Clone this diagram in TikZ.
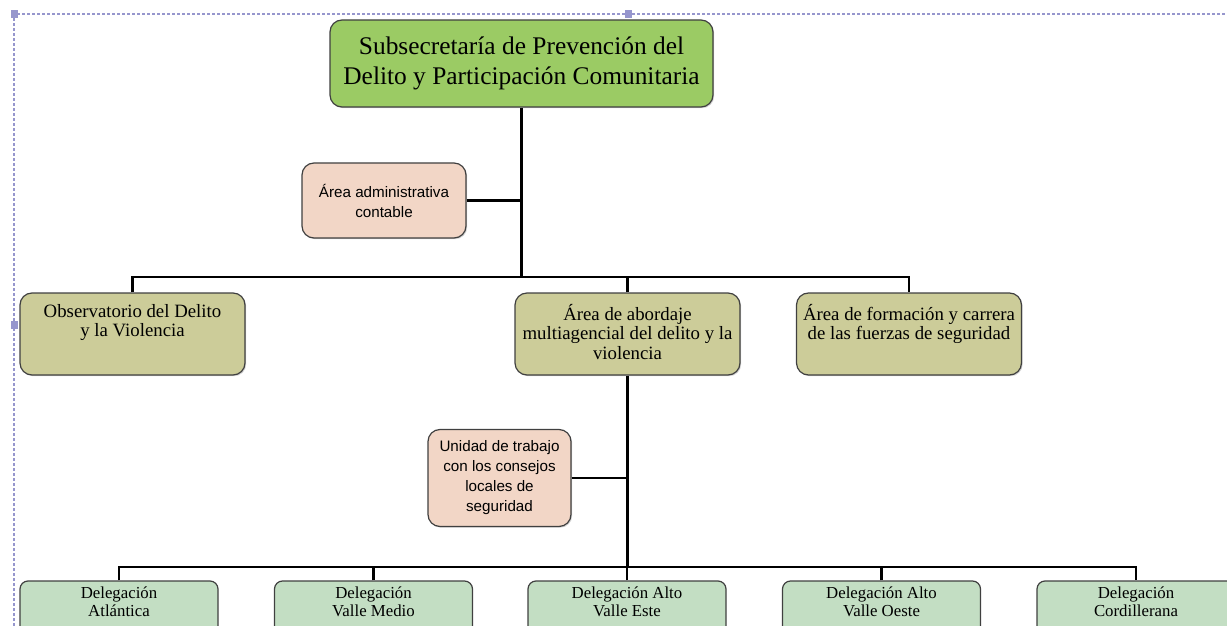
\documentclass[tikz,border=0pt]{standalone}
\usepackage{fontspec}
\setmainfont{Liberation Serif}
\newfontfamily\cajasans{Liberation Sans}
\usepackage{tikz}
\usetikzlibrary{positioning, shadows, calc}
\definecolor{verdejefe}{RGB}{155,203,100}
\definecolor{rosado}{RGB}{242,214,198}
\definecolor{oliva}{RGB}{204,204,153}
\definecolor{verdeclaro}{RGB}{195,222,195}
\definecolor{lavanda}{RGB}{150,150,205}
\tikzstyle{jefe}=[%
      rectangle, rounded corners=6pt, draw=black!75, line width=0.6pt, fill=verdejefe,
      drop shadow={opacity=0.35, shadow xshift=0.6pt, shadow yshift=-0.6pt},
      minimum height=43.5pt, minimum width=191.5pt, inner sep=3pt, align=center,
      font=\fontsize{12.7}{15}\selectfont
]
\tikzstyle{apoyo}=[%
      rectangle, rounded corners=6pt, draw=black!75, line width=0.6pt, fill=rosado,
      drop shadow={opacity=0.35, shadow xshift=0.6pt, shadow yshift=-0.6pt},
      inner sep=2pt, align=center, font=\cajasans\fontsize{7.6}{10}\selectfont
]
\tikzstyle{area}=[%
      rectangle, rounded corners=6pt, draw=black!75, line width=0.6pt, fill=oliva,
      drop shadow={opacity=0.35, shadow xshift=0.6pt, shadow yshift=-0.6pt},
      minimum height=41pt, minimum width=112.5pt, inner sep=0pt,
      font=\fontsize{9.4}{9.8}\selectfont
]
\tikzstyle{delegacion}=[%
      rectangle, rounded corners=4pt, draw=black!75, line width=0.6pt, fill=verdeclaro,
      minimum height=40pt, minimum width=99pt, inner sep=0pt,
      font=\fontsize{8.4}{9}\selectfont
]
\tikzstyle{linea}=[draw=black, line width=1.4pt]
\tikzstyle{marco}=[draw=lavanda, line width=0.6pt, dash pattern=on 1.5pt off 1pt]
\newcommand{\arriba}[3]{\parbox[c][#1][t]{#2}{\centering #3}}

\begin{document}
\begin{tikzpicture}[x=0.5pt, y=-0.5pt]
    \clip (0,0) rectangle (1227,626);

    % marco de seleccion
    \draw[marco] (14,626) -- (14,14) -- (1227,14);
    \fill[lavanda] (11,10) rectangle (18,18);
    \fill[lavanda] (625,10) rectangle (632,18);
    \fill[lavanda] (11,321) rectangle (18,329);

    \coordinate (barra1) at (0,277);
    \coordinate (barra2) at (0,567);

    \node[jefe]  (sub)  at (521.5,63.5) {Subsecretaría de Prevención del\\Delito y Participación Comunitaria};
    \node[apoyo, minimum width=82pt, minimum height=37.5pt] (adm) at (384,200.5) {Área administrativa\\contable};

    \node[area] (obs)  at (132.5,334) {\arriba{30pt}{111pt}{Observatorio del Delito\\y la Violencia}};
    \node[area] (aba)  at (627.5,334) {\arriba{30pt}{111pt}{Área de abordaje\\multiagencial del delito y la\\violencia}};
    \node[area] (form) at (909,334)   {\arriba{30pt}{111pt}{Área de formación y carrera\\de las fuerzas de seguridad}};

    \node[apoyo, minimum width=71.5pt, minimum height=48.5pt] (uni) at (499.5,478) {Unidad de trabajo\\con los consejos\\locales de\\seguridad};

    \node[delegacion] (atl) at (119,621)    {\arriba{34pt}{95pt}{Delegación\\Atlántica}};
    \node[delegacion] (vme) at (373.5,621)  {\arriba{34pt}{95pt}{Delegación\\Valle Medio}};
    \node[delegacion] (vae) at (627,621)    {\arriba{34pt}{95pt}{Delegación Alto\\Valle Este}};
    \node[delegacion] (vao) at (881.5,621)  {\arriba{34pt}{95pt}{Delegación Alto\\Valle Oeste}};
    \node[delegacion] (cor) at (1136,621)   {\arriba{34pt}{95pt}{Delegación\\Cordillerana}};

    % conectores
    \draw[linea] (sub.south) -- (sub.south |- barra1);
    \draw[linea] (adm.east) -- (adm.east -| sub.south);
    \draw[linea] (obs.north) -- (obs.north |- barra1) -- (form.north |- barra1) -- (form.north);
    \draw[linea] (aba.north) -- (aba.north |- barra1);
    \draw[linea] (aba.south) -- (aba.south |- barra2);
    \draw[linea] (uni.east) -- (uni.east -| aba.south);
    \draw[linea] (atl.north) -- (atl.north |- barra2) -- (cor.north |- barra2) -- (cor.north);
    \foreach \d in {vme, vae, vao}
        \draw[linea] (\d.north) -- (\d.north |- barra2);
\end{tikzpicture}
\end{document}
